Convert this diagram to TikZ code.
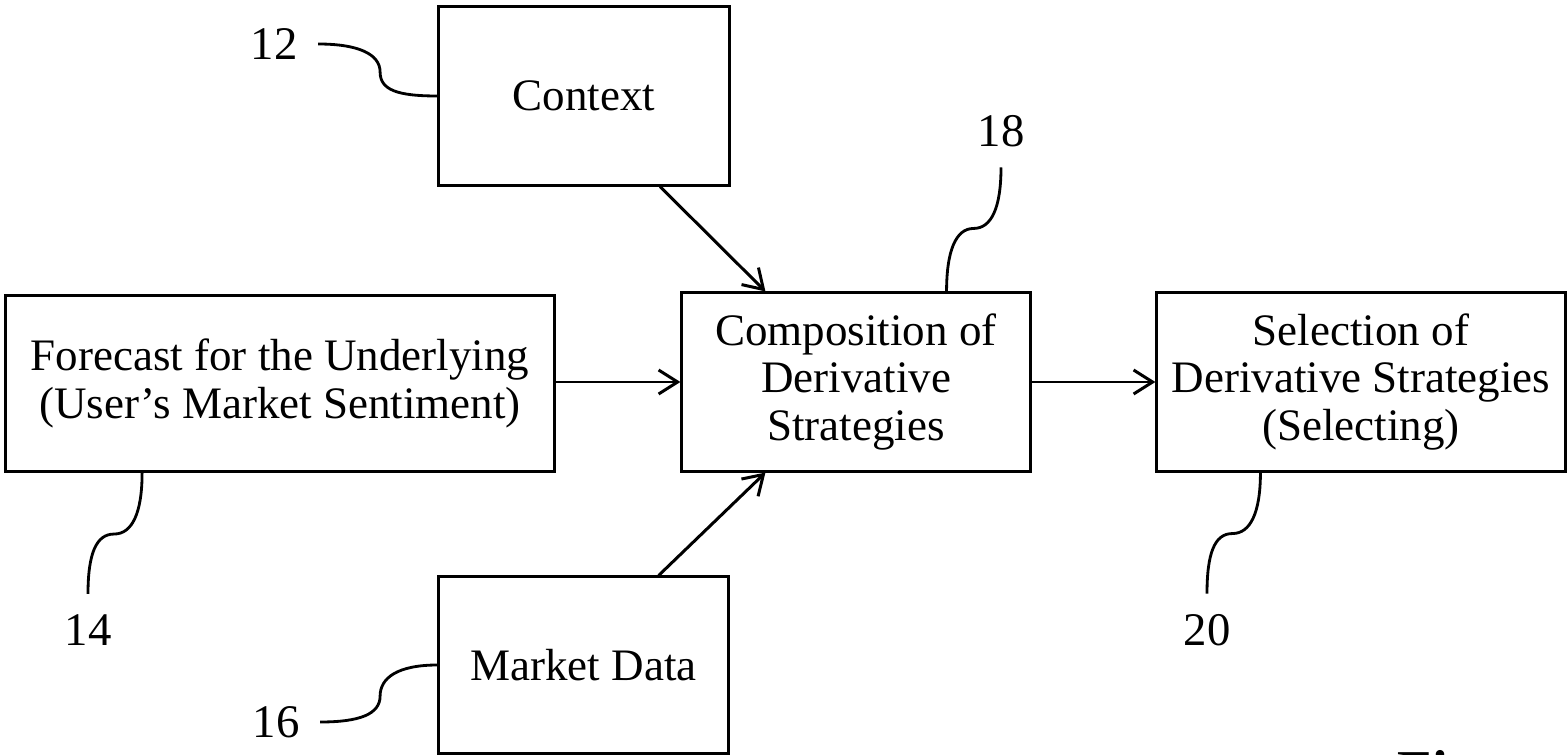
\documentclass[tikz,border=0pt]{standalone}
\usepackage{fontspec}
\setmainfont{Liberation Serif}
\usepackage{tikz}
\usetikzlibrary{arrows.meta}

\begin{document}
\begin{tikzpicture}[x=0.01cm, y=-0.01cm,
        box/.style={draw, line width=0.85pt, align=center, inner sep=0pt,
          font=\fontsize{12.8}{13.4}\selectfont},
        refnum/.style={font=\fontsize{13.3}{15}\selectfont, inner sep=0.2cm},
        link/.style={line width=0.85pt,
          -{Straight Barb[length=1.9mm, width=2.4mm]}},
        lead/.style={line width=0.8pt},
      ]

      \useasboundingbox (0,0) rectangle (1567,755);

      % Boxes
      \node[box, minimum width=2.9cm, minimum height=1.78cm] (ctx)
        at (584, 96) {Context};
      \node[box, minimum width=5.49cm, minimum height=1.76cm] (fcst)
        at (280, 383.5) {Forecast for the Underlying\\(User’s Market Sentiment)};
      \node[box, minimum width=3.48cm, minimum height=1.78cm] (comp)
        at (856, 382) {Composition of\\Derivative\\Strategies};
      \node[box, minimum width=4.08cm, minimum height=1.78cm] (sel)
        at (1361, 382) {Selection of\\Derivative Strategies\\(Selecting)};
      \node[box, minimum width=2.89cm, minimum height=1.76cm] (mkt)
        at (583.5, 665) {Market Data};

      % Arrows
      \draw[link] (ctx.-50) -- (comp.135);
      \draw[link] (mkt.50) -- (comp.-135);
      \draw[link] (fcst.east |- comp.west) -- (comp.west);
      \draw[link] (comp.east) -- (sel.west);

      % Reference numerals
      \node[refnum] (lbl12) at (274, 44) {12};
      \node[refnum] (lbl14) at (88, 630) {14};
      \node[refnum] (lbl16) at (276, 722) {16};
      \node[refnum] (lbl18) at (1001, 131) {18};
      \node[refnum] (lbl20) at (1207, 630) {20};

      % Lead lines
      \draw[lead] (lbl12.east) .. controls +(40,0) and +(0,-18) .. ++(62,28)
        .. controls +(0,18) and +(-40,0) .. (ctx.west);
      \draw[lead] (lbl16.east) .. controls +(40,0) and +(0,18) .. ++(60,-26)
        .. controls +(0,-18) and +(-40,0) .. (mkt.west);
      \draw[lead] (fcst.-147) .. controls +(0,40) and +(18,0) .. ++(-28,61)
        .. controls +(-18,0) and +(0,-40) .. (lbl14.north);
      \draw[lead] (sel.-138) .. controls +(0,40) and +(18,0) .. ++(-28,61)
        .. controls +(-18,0) and +(0,-40) .. (lbl20.north);
      \draw[lead] (comp.45) .. controls +(0,-40) and +(-18,0) .. ++(27,-63)
        .. controls +(18,0) and +(0,40) .. (lbl18.south);

      % Figure caption (cut off at the bottom edge)
      \node[font=\fontsize{16}{19}\selectfont\bfseries, anchor=north west,
        inner sep=0pt] (fig) at (1397, 750) {Fig.};

      \end{tikzpicture}
\end{document}
